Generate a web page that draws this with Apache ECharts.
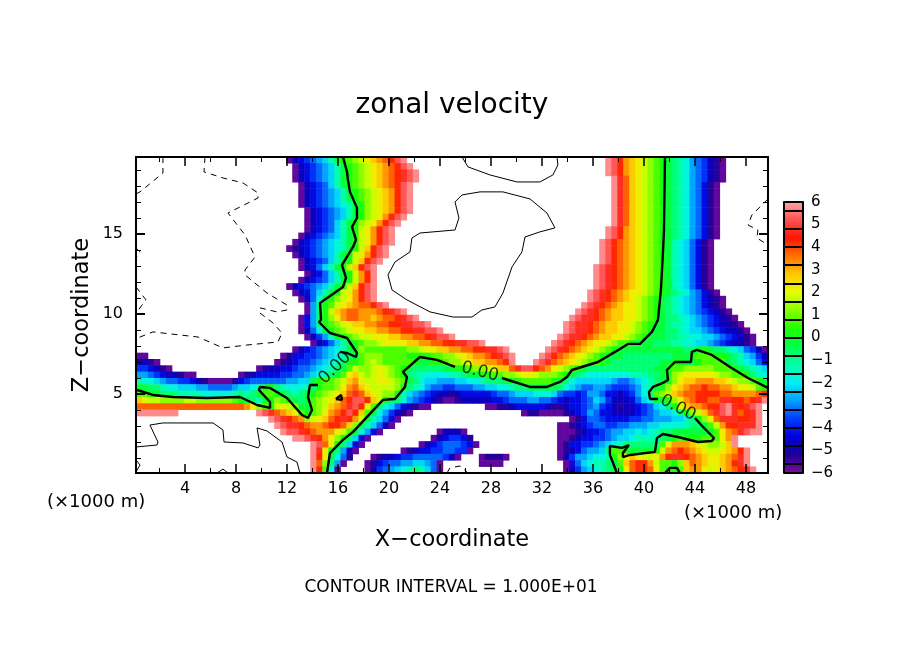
<!DOCTYPE html>
<html>
<head>
<meta charset="utf-8">
<title>zonal velocity</title>
<script src="https://cdn.jsdelivr.net/npm/echarts@6/dist/echarts.min.js"></script>
<style>
html, body { margin: 0; padding: 0; background: #fff; }
#chart { width: 904px; height: 654px; }
</style>
</head>
<body>
<div id="chart"></div>
<script>
// tick values (x in 1000 m, z in 1000 m)
const xMajor = [4, 8, 12, 16, 20, 24, 28, 32, 36, 40, 44, 48];
const xMinor = [2, 6, 10, 14, 18, 22, 26, 30, 34, 38, 42, 46];
const zMajor = [5, 10, 15];
const zMinor = [1, 2, 3, 4, 6, 7, 8, 9, 11, 12, 13, 14, 16, 17, 18, 19];
const barLabels = [-6, -5, -4, -3, -2, -1, 0, 1, 2, 3, 4, 5, 6];
const barLines = [-6, -5.6, -4.8, -4, -3.2, -2.4, -1.6, -0.8, 0, 0.8, 1.6, 2.4, 3.2, 4, 4.8, 5.6, 6];
const palette = ['#800aa0', '#1e0096', '#0000dc', '#003cff', '#00a0ff', '#00f0f5', '#00ffaa', '#00ff4b',
  '#1eff00', '#87ff00', '#e6ff00', '#ffc800', '#ff7300', '#ff1400', '#ff5050', '#ffa5a5'];

// field, one string per row from the top, "column:levels"
// a = -5.75, b = -5.25 ... x = 5.75, half a unit per letter, blank where |u| > 6
const levelCodes = 'abcdefghijklmnopqrstuvwx';
const fieldRows = [
  '25:acdefghjlmnopqrstuwx 78:xwusrqponmlkjigfecba',
  '26:acdefghjlmnopqrstuwx 78:xwusrqponmlkjigfecba',
  '26:acdefghjlmnopqrstuvwx 78:xwusrqponmlkjigfecba',
  '26:acdefghjlmnopqrstuvwx 79:xvtrqponmlkjigfecba',
  '27:acdefhjlmnopqrstuwx 79:xvtrqponmlkjigfdba',
  '27:acdefghjlmnopqrsuwx 79:xvtrqponmlkjigfdba',
  '27:acdefghjlmnopqrsuwx 79:xvtrqponmlkjigfdba',
  '27:acdefghijlmopqrsuwx 79:xvtrqponmlkjigfdba',
  '28:acdefghjlmopqrsuwx 79:xvtrqponmlkjigfdba',
  '28:acdefghjlmopqsuwx 79:xvtrqponmlkjigfdba',
  '28:acdefhjlmopqsuwx 79:xvtrqponmlkjigfdba',
  '28:acdefhjlmpqsuwx 78:xwusrqponmlkjigfdba',
  '27:acdefghjlmpqsuwx 78:xwusrqponmlkjigfdba',
  '26:acdefghijlmpqsuwx 77:xwutsrqponmljihfdba',
  '25:abcdefghijlmpruwx 77:xwutsrqponmljihfdba',
  '26:acdefghjlmpqsuwx 77:xwutsrqponmljihfdba',
  '27:acdefhjlmpruwx 77:xwutsrqponmljihfdba',
  '27:acdfhjlmpruwx 76:xwvutsrqponmljihfdba',
  '28:acdfhjlmpsux 76:xwvutsrqponmljihfdba',
  '27:acdefhjlmpsux 76:xwvutsrqponmljihfdba',
  '25:acdefghjlmpruwx 76:xwvutsrqponmljihfdba',
  '26:acdfhjlmpqsuwx 75:xwvutsrqqponmlkjigfdba',
  '27:acfilmopqsuwx 75:xwvutsrqponmlkjihgfdcba',
  '28:agkmnpqrsttuwx 74:xwvutsrqqponmlkjihgfdcba',
  '28:agkmprsttssstuvwx 73:xwvutsrrqqponmlkjihgfedcba',
  '27:adgkmoqsttssrsttuvwx 72:xwvvutsrrqqponmlkkjihgfedcba',
  '27:adgkmnopqrrssttuuvvwwx 71:xwvvutsrrqqponmllkjjihgfedccba',
  '27:acfilmnopqqrrssttuuvvwwx 71:xwvvutsrrqqponmllkkjihhgfedccba',
  '28:acegjlmnoppqqqrrssttuvwwx 70:xwvvutsrrqqponmlllkkjjiihhgfedcba',
  '29:acdfhjlmnoopqqqqrrssttuuvvwwx 69:xwvutsrqqponnmlllkkkjjiihhgfedccba',
  '26:acdefghijlmonnnnnnnoopqqrrssttuuvvwx 68:xwvutsrqponmlllllllllllkklmlkkjihfeca',
  '0:aa 24:abddeefghijklnooonnnnmmmmnnoopqrsstuvwx 67:xwutsrqponmlllkkkkkkkklllmnnnmmlkjhgec',
  '0:ccba 23:abcdeefghijkmmnoponnnnnmllmmnoopqrrsstux 66:xwvtsrqponnmlkkkkkkkkllmmllmnnnnlkjihfd',
  '0:eedcba 20:abccddeffghijklnpoopqponmlkkkkkllmmnoopqrrtvwwutsqponmlkkkkkkkkkkkllmnnooooonnnmlkjih',
  '0:ggfedccbaa 17:abcddddeeffghijklnqrpopqponmkjjiiiijjkllmmnnoopqqpooonmlkjiiiiiiijjjkklmopqqqqqpoonnmkji',
  '0:jiihgffeedcbaaaabdeffffffgghhlmnnoprsqppqqponlkihhggghhiijkkklmmnnnnnmlkihhhhhhgffghijklmoqrrsssrrqpoonml',
  '0:llkkjiihhhggffffghhijmmkjiiijkmnnoqstrqppppomkjigffeefffgghhiijkklllllkihgffggfeeefgijlmoqrsttuttssrqqpnm',
  '0:nnmlkkkjjjjiiiiijkjklnnmlkjklmnopqrtvtrqpoomjhgfedccbcdddddeffghhhiiihfeedeggfddcdegiknoprsttuuuuttsssstu',
  '0:rqppooooppoooooonmlkjlmonmlklnopqrtuwwurpmkkigfedcbaabcccccddefffggffedcddefhgecccdfhillmoqstuuttvvuutuvx',
  '0:ttttttttttttttttttsqonmpqpollnoprstvwuqnkihfdcbaa 58:aabbcdddddcbbcddefgedcbccdefhikmprsstuuwxvuvwx',
  '0:xxxxxxx 20:xwvtsrqnmnoqstuwurnligecba 64:abbaaaabcdegfddccccdefghhikmoprtvwxvtuvx',
  '22:xwvutsopqrtuvuspljhfda 72:abdffeddddeeffggghhikmoqtvvvuuvx',
  '23:xwvvutsstuutroljhfca 70:aabcdeffeeffggghhiiiijkklnpsuuvvvx',
  '24:xwwvutsssqpnligda 50:accca 70:aaabcddefgghhihijkklllllllnqstvwxx',
  '26:xxwvusqomkhda 49:acdeedb 70:aabcddeefghhijjjjklmnmmmnnnqsx',
  '29:xwtqmkhda 47:acdefffeda 70:abddeefghijkkkkkknqsssrqpooprx',
  '29:xvqmkgca 44:abcddeeffeea 70:abcdfgghknnmllllmpstutsrqppqrsux',
  '29:xuqlifb 39:abccdeefffffeca 57:abbba 70:acegghiijmoqrqppqsuvvutsrqqrstvx',
  '29:xtokga 38:abdeffgghhgfa 57:aaaa 71:adfhijjklnrtuuspnnmortsrqqrsuvx',
  '29:xunia 38:acefghijkjhfa 71:aceghijklmqtuutqnmmnrssqpqrstuvx'
];

// zero contours, [x, z]
const zeroLines = [
  [[16.39,19.81],[16.71,18.88],[16.78,18.38],[16.94,17.63],[17.49,16.63],[17.49,16],[17.1,15.44],[17.41,14.63],[17.18,14.19],[16.31,13.06],[16.63,12.25],[16.39,11.69],[14.59,10.69],[14.67,9.63],[14.51,9.5],[15.37,8.81],[16.16,8.63],[16.71,8.5],[17.49,7.56],[17.41,7.31],[16.71,7.56],[16.16,7.63]],
  [[14.43,5.56],[13.8,5.56],[13.65,4.81],[13.96,4],[13.65,3.5],[13.18,3.69],[12,4.75],[10.67,5.38],[9.88,5.44],[9.8,5.25],[10.67,4.5],[10.67,4.13],[9.65,4.31],[8.31,4.81],[5.73,4.75],[3.06,4.81],[1.49,4.94],[0.24,5.25]],
  [[15.84,4.69],[16.24,4.94],[16.31,4.63],[15.84,4.69]],
  [[15.14,0.06],[15.37,1.31],[16.39,2.13],[17.18,2.63],[19.53,4.63],[20.47,4.69],[21.25,5.44],[21.41,6.06],[21.1,6.38],[22.43,7.31],[23.76,7.13],[25.18,6.69]],
  [[28.86,6],[31.06,5.44],[32.39,5.44],[33.41,5.75],[33.96,6.06],[34.35,6.5],[36.39,7],[37.73,7.63],[38.75,8.13],[39.69,8.13],[40.63,8.88],[41.1,9.63],[41.33,11.5],[41.49,13.81],[41.57,15.25],[41.65,19.81]],
  [[49.73,5.38],[48.16,6],[46.75,6.69],[45.33,7.44],[44.16,7.75],[43.76,7.63],[43.69,7],[42.43,7],[41.8,6.5],[41.88,5.88],[41.49,5.69],[40.71,5.44],[40.39,5.13],[40.47,4.69],[41.1,4.69]],
  [[44,3.5],[44.63,2.94],[45.49,2.25],[45.33,2.06],[44.24,2],[42.67,2.31],[41.49,2.5],[41.02,2.25],[40.86,1.38],[38.9,1.19],[38.35,1.06],[38.35,1.31],[38.82,1.81],[38.27,1.63],[37.33,1.75],[37.33,1.19],[37.88,0.06]],
  [[41.65,0.06],[42.04,0.38],[42.59,0.38],[42.82,0.06]]
];
// +10 contours
const posLines = [
  [[25.18,17],[25.73,17.44],[27.14,17.63],[28.94,17.63],[31.06,17.19],[32.39,16.31],[33.02,15.38],[31.84,15.13],[30.67,14.81],[30.43,13.88],[29.65,12.94],[28.94,11.31],[28.31,10.44],[27.29,10.25],[26.51,9.81],[25.02,9.81],[23.22,10.13],[21.41,10.88],[20.24,11.5],[19.92,12.44],[20.47,13.25],[21.65,13.88],[21.8,14.75],[22.43,15.06],[25.18,15.25],[25.49,16],[25.18,17]],
  [[25.73,19.81],[26.2,19.19],[27.92,18.69],[30.04,18.25],[31.84,18.25],[32.86,18.69],[33.25,19.31],[33.18,19.81]],
  [[0.16,1.69],[1.8,1.81],[1.88,2],[1.25,3.06],[2.27,3.19],[6.2,3.19],[6.98,2.75],[7.06,2],[8.55,1.94],[9.73,1.63],[9.88,1.81],[9.65,2.88],[10.43,2.69],[11.61,2],[12,1.06],[12.78,0.75],[13.02,0.06]],
  [[0.16,0.88],[0.47,0.56],[0.16,0.13]],
  [[6.51,0.06],[6.98,0.31],[7.37,0.06]]
];
// -10 contours
const negLines = [
  [[2.27,19.81],[2.27,18.81],[0.47,17.63],[0.16,17.5]],
  [[5.57,19.81],[5.49,18.88],[6.98,18.5],[8.55,18.19],[9.73,17.56],[9.73,17.25],[7.37,16.31],[8.71,14.94],[9.49,13.56],[8.71,12.75],[8.71,12.44],[10.43,11.31],[12,10.56],[12,10.25],[11.22,10.13],[9.88,10.38],[9.88,10.06],[10.9,9.44],[11.61,8.81],[11.29,8.25],[8.86,8.06],[6.98,7.88],[5.02,8.56],[1.49,8.88],[0.47,8.56],[0.16,8.5]],
  [[0.16,11.69],[0.94,10.88],[0.16,10.06]],
  [[0.16,14.13],[0.47,13.88],[0.16,13.5]],
  [[24.55,0.06],[24.78,0.38],[25.57,0.5],[26.2,0.06]],
  [[49.73,17.19],[48.47,16.19],[48.16,15.56],[48.94,15.25],[48.86,14.75],[49.73,14.31]]
];
// "0.00" labels on the zero contour, [x, z, rotation]
const zeroLabels = [[15.76, 6.63, 45], [27.14, 6.38, -14], [42.67, 4.13, -28]];

const FONT = '"DejaVu Sans", sans-serif';

var fieldData = [];
fieldRows.forEach(function (row, r) {
  row.split(' ').forEach(function (seg) {
    var parts = seg.split(':');
    parts[1].split('').forEach(function (ch, i) {
      fieldData.push([+parts[0] + i, fieldRows.length - 1 - r, -5.75 + 0.5 * levelCodes.indexOf(ch)]);
    });
  });
});
var colKeys = Array.from({ length: 105 }, function (v, i) { return i; });
var rowKeys = Array.from({ length: fieldRows.length }, function (v, i) { return i; });

// one value axis per tick set, all sharing the plot frame
function xAxisAt(position, ticks, len, width, labels) {
  return {
    type: 'value', position: position, min: 0.157, max: 49.73, z: 5,
    axisLine: { show: true, onZero: false, lineStyle: { color: '#000', width: 2 } },
    axisTick: { show: true, inside: true, length: len, customValues: ticks, lineStyle: { color: '#000', width: width } },
    axisLabel: labels
      ? { show: true, customValues: ticks, margin: 8, color: '#000', fontFamily: FONT, fontSize: 16 }
      : { show: false },
    splitLine: { show: false }
  };
}
function zAxisAt(position, ticks, len, width, labels) {
  return {
    type: 'value', position: position, min: 0.0625, max: 19.81, z: 5,
    axisLine: { show: true, onZero: false, lineStyle: { color: '#000', width: 2 } },
    axisTick: { show: true, inside: true, length: len, customValues: ticks, lineStyle: { color: '#000', width: width } },
    axisLabel: labels
      ? { show: true, customValues: ticks, margin: 13, color: '#000', fontFamily: FONT, fontSize: 16 }
      : { show: false },
    splitLine: { show: false }
  };
}
function contourSeries(lines, width, type) {
  return lines.map(function (pts) {
    return {
      type: 'line', xAxisIndex: 1, yAxisIndex: 1, data: pts, showSymbol: false, silent: true,
      lineStyle: { color: '#000', width: width, type: type }, z: 3
    };
  });
}

var xBottom = xAxisAt('bottom', xMajor, 9, 1.5, true);
xBottom.name = 'X\u2212coordinate';
xBottom.nameLocation = 'middle';
xBottom.nameGap = 56;
xBottom.nameMoveOverlap = false;
xBottom.nameTextStyle = { color: '#000', fontFamily: FONT, fontSize: 22.5 };
var zLeft = zAxisAt('left', zMajor, 9, 2, true);
zLeft.name = 'Z\u2212coordinate';
zLeft.nameLocation = 'middle';
zLeft.nameGap = 42;
zLeft.nameMoveOverlap = false;
zLeft.nameTextStyle = { color: '#000', fontFamily: FONT, fontSize: 22.5 };

var myChart = echarts.init(document.getElementById('chart'), null, { renderer: 'canvas' });
myChart.setOption({
  animation: false,
  backgroundColor: '#fff',
  title: [
    { text: 'zonal velocity', left: 447, top: 87, textAlign: 'center', textStyle: { color: '#000', fontFamily: FONT, fontSize: 28, fontWeight: 'normal' } },
    { text: 'CONTOUR INTERVAL = 1.000E+01', left: 446, top: 574, textAlign: 'center', textStyle: { color: '#000', fontFamily: FONT, fontSize: 17, fontWeight: 'normal' } },
    { text: '(\u00d71000 m)', left: 42, top: 488, textStyle: { color: '#000', fontFamily: FONT, fontSize: 18, fontWeight: 'normal' } },
    { text: '(\u00d71000 m)', left: 679, top: 499, textStyle: { color: '#000', fontFamily: FONT, fontSize: 18, fontWeight: 'normal' } }
  ],
  grid: [
    { left: 136, top: 157, width: 632, height: 316, containLabel: false },
    { left: 784, top: 202, width: 19, height: 271, containLabel: false }
  ],
  xAxis: [
    { type: 'category', data: colKeys, show: false, gridIndex: 0 },
    xBottom,
    xAxisAt('bottom', xMinor, 5, 1, false),
    xAxisAt('top', xMajor, 9, 1.5, false),
    xAxisAt('top', xMinor, 5, 1, false),
    { type: 'value', gridIndex: 1, min: 0, max: 1, show: false }
  ],
  yAxis: [
    { type: 'category', data: rowKeys, show: false, gridIndex: 0 },
    zLeft,
    zAxisAt('left', zMinor, 5, 1, false),
    zAxisAt('right', zMajor, 9, 2, false),
    zAxisAt('right', zMinor, 5, 1, false),
    {
      type: 'value', gridIndex: 1, position: 'right', min: -6, max: 6, z: 6,
      axisLine: { show: true, onZero: false, lineStyle: { color: '#000', width: 2 } },
      axisTick: { show: false, customValues: barLines },
      axisLabel: {
        show: true, customValues: barLabels, margin: 8, color: '#000', fontFamily: FONT, fontSize: 15,
        formatter: function (v) { return String(v).replace('-', '\u2212'); }
      },
      splitLine: { show: true, showMinLine: true, showMaxLine: true, lineStyle: { color: '#000', width: 2 } }
    },
    {
      type: 'value', gridIndex: 1, position: 'left', min: -6, max: 6, z: 6,
      axisLine: { show: true, onZero: false, lineStyle: { color: '#000', width: 2 } },
      axisTick: { show: false }, axisLabel: { show: false }, splitLine: { show: false }
    }
  ],
  visualMap: {
    type: 'continuous', seriesIndex: 0, min: -6, max: 6, calculable: false, hoverLink: false,
    left: 784, top: 202, itemWidth: 19, itemHeight: 271, padding: 0, text: ['', ''], showLabel: false, z: 1,
    inRange: { color: palette }
  },
  series: [
    {
      type: 'heatmap', xAxisIndex: 0, yAxisIndex: 0, data: fieldData, progressive: 0, silent: true,
      itemStyle: { borderWidth: 0 }, emphasis: { disabled: true }
    }
  ].concat(
    contourSeries(zeroLines, 2.4, 'solid'),
    contourSeries(posLines, 1, 'solid'),
    contourSeries(negLines, 1, [6, 5]),
    [{
      type: 'scatter', xAxisIndex: 1, yAxisIndex: 1, symbolSize: 0, silent: true, z: 4,
      data: zeroLabels.map(function (d) {
        return {
          value: [d[0], d[1]],
          label: { show: true, position: 'inside', formatter: '0.00', rotate: d[2], color: '#000', fontFamily: FONT, fontSize: 17 }
        };
      })
    }]
  )
});
</script>
</body>
</html>
